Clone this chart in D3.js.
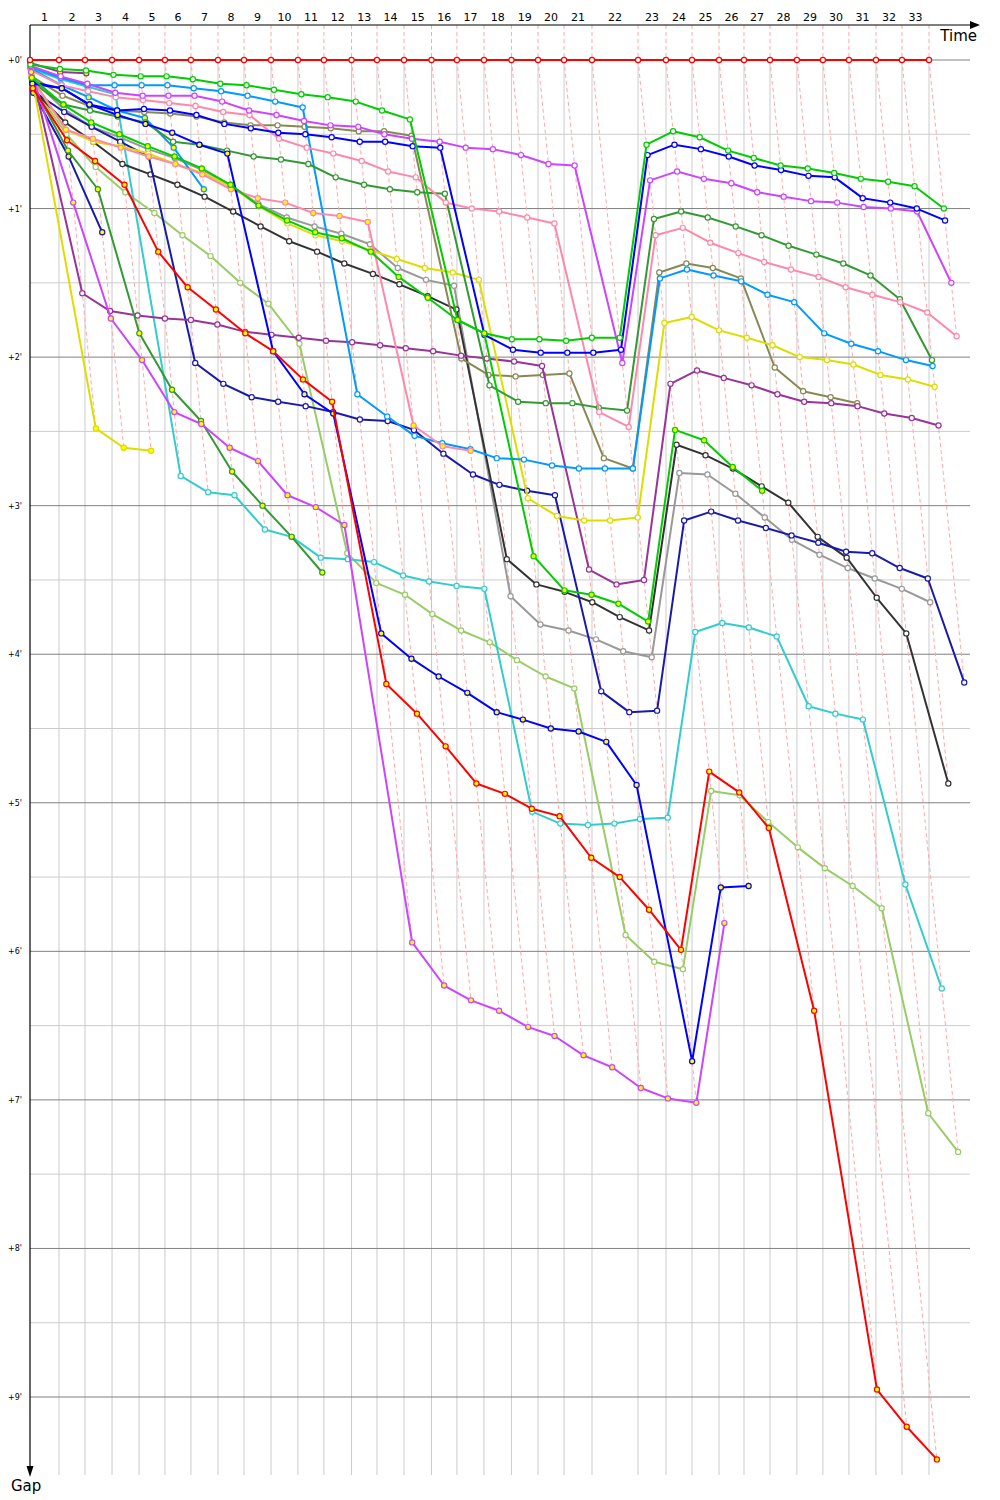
<!DOCTYPE html>
<html>
<head>
<meta charset="utf-8">
<script src="https://cdn.jsdelivr.net/npm/d3@7.9.0/dist/d3.min.js"></script>
<style>
  body { margin: 0; background: #fff; }
  svg { display: block; font-family: "DejaVu Sans", Verdana, sans-serif; }
</style>
</head>
<body>
<div id="gap-chart"></div>
<script>
// leader's race time at the end of each lap, in minutes (index 0 = start)
const leaderTimes = [0, 1.95, 3.70, 5.52, 7.34, 9.08, 10.83, 12.65, 14.40, 16.22, 18.03,
  19.78, 21.64, 23.35, 25.17, 27.02, 28.73, 30.55, 32.40, 34.19, 35.94, 37.82, 40.92,
  42.80, 44.55, 46.37, 48.05, 49.80, 51.61, 53.36, 55.11, 56.93, 58.68, 60.50];

const lapLabels = ['1','2','3','4','5','6','7','8','9','10','11','12','13','14','15','16','17',
  '18','19','20','21','22','23','24','25','26','27','28','29','30','31','32','33'];
const gapTicks = [0, 1, 2, 3, 4, 5, 6, 7, 8, 9];
const gapTickLabels = ["+0'", "+1'", "+2'", "+3'", "+4'", "+5'", "+6'", "+7'", "+8'", "+9'"];

// gap to the leader in minutes, one value per lap starting at lap 0
const gapsLeader = [0, 0, 0, 0, 0, 0, 0, 0, 0, 0, 0, 0, 0, 0, 0, 0, 0, 0, 0, 0, 0, 0, 0, 0, 0, 0, 0, 0, 0, 0, 0, 0, 0, 0];
const gapsRed2 = [0.19, 0.54, 0.68, 0.84, 1.29, 1.53, 1.68, 1.84, 1.96, 2.15, 2.30, 4.20, 4.40, 4.62, 4.87, 4.94,
  5.04, 5.09, 5.37, 5.50, 5.72, 5.99, 4.79, 4.93, 5.17, 6.40, 8.95, 9.20, 9.42];
const gapsGreen1 = [0.03, 0.06, 0.07, 0.10, 0.11, 0.11, 0.13, 0.16, 0.17, 0.20, 0.23, 0.25, 0.28, 0.34, 0.40, 1.75,
  1.84, 1.88, 1.88, 1.89, 1.87, 1.87, 0.57, 0.48, 0.52, 0.61, 0.66, 0.71, 0.73, 0.76, 0.80, 0.82, 0.85, 1.00];
const gapsGreen2 = [0.12, 0.30, 0.42, 0.50, 0.58, 0.65, 0.73, 0.84, 0.98, 1.08, 1.16, 1.20, 1.29, 1.46, 1.60, 1.75,
  1.84, 3.34, 3.57, 3.60, 3.66, 3.78, 2.49, 2.56, 2.74, 2.90];
const gapsBlue1 = [0.15, 0.19, 0.30, 0.34, 0.33, 0.34, 0.37, 0.43, 0.46, 0.49, 0.50, 0.52, 0.55, 0.55, 0.58, 0.59,
  1.85, 1.95, 1.97, 1.97, 1.97, 1.95, 0.64, 0.57, 0.60, 0.65, 0.71, 0.74, 0.78, 0.79, 0.93, 0.96, 1.00, 1.08];
const gapsBlue2 = [0.16, 0.19, 0.30, 0.37, 0.43, 0.49, 0.57, 0.63, 1.96, 2.25, 2.38, 3.86, 4.03, 4.15, 4.26, 4.39,
  4.44, 4.50, 4.52, 4.59, 4.88, 6.74, 5.57, 5.56];
const gapsMagenta1 = [0.04, 0.11, 0.16, 0.22, 0.24, 0.24, 0.24, 0.28, 0.34, 0.37, 0.41, 0.44, 0.45, 0.50, 0.53, 0.55,
  0.59, 0.60, 0.64, 0.70, 0.71, 2.04, 0.81, 0.75, 0.80, 0.83, 0.89, 0.92, 0.95, 0.96, 0.99, 1.00, 1.02, 1.50];
const gapsMagenta2 = [0.08, 0.96, 1.74, 2.02, 2.37, 2.45, 2.61, 2.70, 2.93, 3.01, 3.13, 5.94, 6.23, 6.33, 6.40, 6.51,
  6.57, 6.70, 6.78, 6.92, 6.99, 7.02, 5.81];
const gapsPink1 = [0.07, 0.17, 0.21, 0.25, 0.27, 0.29, 0.31, 0.35, 0.37, 0.53, 0.59, 0.63, 0.68, 0.75, 0.79, 0.96,
  1.00, 1.02, 1.06, 1.10, 2.37, 2.47, 1.18, 1.13, 1.23, 1.30, 1.36, 1.41, 1.46, 1.53, 1.58, 1.63, 1.70, 1.86];
const gapsPink2 = [0.12, 0.47, 0.53, 0.59, 0.65, 0.70, 0.77, 0.87, 0.93, 0.96, 1.03, 1.05, 1.09, 2.46, 2.60, 2.63];
const gapsDarkGreen1 = [0.15, 0.30, 0.34, 0.38, 0.42, 0.55, 0.57, 0.61, 0.65, 0.67, 0.70, 0.79, 0.84, 0.87, 0.89, 0.90,
  2.19, 2.30, 2.31, 2.31, 2.34, 2.36, 1.07, 1.02, 1.06, 1.12, 1.18, 1.25, 1.31, 1.37, 1.45, 1.61, 2.02];
const gapsDarkGreen2 = [0.17, 0.61, 0.87, 1.84, 2.22, 2.43, 2.77, 3.00, 3.21, 3.45];
const gapsLightBlue1 = [0.05, 0.12, 0.17, 0.17, 0.17, 0.17, 0.19, 0.21, 0.24, 0.28, 0.32, 2.25, 2.40, 2.53, 2.58, 2.62,
  2.68, 2.69, 2.73, 2.75, 2.75, 2.75, 1.47, 1.41, 1.45, 1.49, 1.58, 1.63, 1.84, 1.91, 1.96, 2.02, 2.06];
const gapsLightBlue2 = [0.06, 0.17, 0.25, 0.34, 0.39, 0.59, 0.87];
const gapsYellow1 = [0.10, 2.48, 2.61, 2.63];
const gapsYellow2 = [0.13, 0.47, 0.55, 0.58, 0.63, 0.70, 0.76, 0.85, 0.98, 1.10, 1.18, 1.22, 1.28, 1.34, 1.40, 1.43,
  1.48, 2.95, 3.07, 3.10, 3.10, 3.08, 1.77, 1.73, 1.82, 1.87, 1.92, 2.00, 2.02, 2.05, 2.12, 2.15, 2.20];
const gapsPurple1 = [0.05, 1.57, 1.69, 1.72, 1.74, 1.75, 1.78, 1.83, 1.85, 1.87, 1.89, 1.90, 1.92, 1.94, 1.96, 1.99,
  2.01, 2.03, 2.06, 3.43, 3.53, 3.50, 2.18, 2.09, 2.14, 2.19, 2.25, 2.30, 2.31, 2.33, 2.38, 2.41, 2.46];
const gapsPurple2 = [0.02, 0.08, 0.09];
const gapsNavy1 = [0.22, 0.65, 1.16];
const gapsNavy2 = [0.21, 0.35, 0.45, 0.55, 0.65, 2.04, 2.18, 2.27, 2.30, 2.33, 2.37, 2.42, 2.43, 2.49, 2.65, 2.79,
  2.86, 2.90, 2.93, 4.25, 4.39, 4.38, 3.10, 3.04, 3.10, 3.15, 3.20, 3.25, 3.31, 3.32, 3.42, 3.49, 4.19];
const gapsOlive = [0.11, 0.24, 0.31, 0.34, 0.35, 0.36, 0.38, 0.42, 0.44, 0.44, 0.45, 0.46, 0.48, 0.48, 0.51, 2.01,
  2.12, 2.13, 2.12, 2.11, 2.68, 2.75, 1.43, 1.37, 1.40, 1.47, 2.07, 2.23, 2.27, 2.31];
const gapsCyan = [0.06, 0.13, 0.18, 0.23, 2.80, 2.91, 2.93, 3.16, 3.21, 3.35, 3.36, 3.38, 3.47, 3.51, 3.54, 3.56,
  5.06, 5.14, 5.15, 5.14, 5.11, 5.10, 3.85, 3.79, 3.82, 3.88, 4.35, 4.40, 4.44, 5.55, 6.25];
const gapsLightGreen = [0.17, 0.50, 0.72, 0.89, 1.03, 1.18, 1.32, 1.50, 1.64, 1.91, 3.32, 3.52, 3.60, 3.73, 3.84, 3.92,
  4.04, 4.15, 4.23, 5.89, 6.07, 6.12, 4.92, 4.95, 5.13, 5.30, 5.44, 5.56, 5.71, 7.09, 7.35];
const gapsBlack = [0.20, 0.42, 0.55, 0.70, 0.77, 0.84, 0.92, 1.02, 1.12, 1.22, 1.29, 1.37, 1.44, 1.51, 1.59, 1.68,
  3.36, 3.53, 3.58, 3.65, 3.75, 3.84, 2.59, 2.66, 2.75, 2.87, 2.98, 3.21, 3.35, 3.62, 3.86, 4.87];
const gapsGray = [0.13, 0.33, 0.45, 0.52, 0.60, 0.66, 0.74, 0.84, 0.97, 1.06, 1.12, 1.17, 1.24, 1.40, 1.48, 1.52,
  3.61, 3.80, 3.84, 3.90, 3.98, 4.02, 2.78, 2.79, 2.92, 3.08, 3.23, 3.33, 3.42, 3.49, 3.56, 3.65];

// drawing order: first entries end up underneath
const series = [
  { gaps: gapsLightGreen, color: '#99cc66', fill: '#ffffff' },
  { gaps: gapsCyan, color: '#33cccc', fill: '#ffffff' },
  { gaps: gapsGray, color: '#999999', fill: '#ffffff' },
  { gaps: gapsBlack, color: '#333333', fill: '#ffffff' },
  { gaps: gapsOlive, color: '#888855', fill: '#ffffff' },
  { gaps: gapsNavy2, color: '#1a1aaa', fill: '#ffffff' },
  { gaps: gapsNavy1, color: '#1a1aaa', fill: '#ffff00' },
  { gaps: gapsPurple1, color: '#993399', fill: '#ffffff' },
  { gaps: gapsPurple2, color: '#993399', fill: '#ffff00' },
  { gaps: gapsYellow2, color: '#dddd00', fill: '#ffffff' },
  { gaps: gapsYellow1, color: '#dddd00', fill: '#ffff00' },
  { gaps: gapsLightBlue1, color: '#0099ff', fill: '#ffffff' },
  { gaps: gapsLightBlue2, color: '#0099ff', fill: '#ffff00' },
  { gaps: gapsDarkGreen1, color: '#339933', fill: '#ffffff' },
  { gaps: gapsDarkGreen2, color: '#339933', fill: '#ffff00' },
  { gaps: gapsPink1, color: '#ff88aa', fill: '#ffffff' },
  { gaps: gapsPink2, color: '#ff88aa', fill: '#ffff00' },
  { gaps: gapsMagenta1, color: '#cc44ff', fill: '#ffffff' },
  { gaps: gapsMagenta2, color: '#cc44ff', fill: '#ffff00' },
  { gaps: gapsBlue1, color: '#0000ff', fill: '#ffffff' },
  { gaps: gapsBlue2, color: '#0000ff', fill: '#ffff00' },
  { gaps: gapsGreen1, color: '#00cc00', fill: '#ffffff' },
  { gaps: gapsGreen2, color: '#00cc00', fill: '#ffff00' },
  { gaps: gapsRed2, color: '#ff0000', fill: '#ffff00' },
  { gaps: gapsLeader, color: '#ff0000', fill: '#ffffff' }
];

const width = 1000, height = 1500;
const plotLeft = 30, plotRight = 970, axisTop = 25, axisBottom = 1477;

const svg = d3.select('#gap-chart')
  .append('svg')
  .attr('width', width)
  .attr('height', height);

// time runs left to right, gap runs downwards (10x stretched compared to time)
const x = d3.scaleLinear()
  .domain([0, leaderTimes[leaderTimes.length - 1]])
  .range([30, 929]);
const y = d3.scaleLinear()
  .domain([0, 9])
  .range([60, 1397]);

const lapOf = d => x(leaderTimes[d.lap] + d.gap);

// -------------------- GRID -------------------- //
const grid = svg.append('g');

grid.selectAll('.half-line')
  .data(gapTicks.slice(0, -1).map(d => d + 0.5))
  .join('line')
  .attr('x1', plotLeft).attr('x2', plotRight)
  .attr('y1', d => y(d)).attr('y2', d => y(d))
  .attr('stroke', '#cccccc');

grid.selectAll('.lap-line')
  .data(leaderTimes.slice(1))
  .join('line')
  .attr('x1', d => x(d)).attr('x2', d => x(d))
  .attr('y1', y(0)).attr('y2', 1475)
  .attr('stroke', '#cccccc');

grid.selectAll('.minute-line')
  .data(gapTicks)
  .join('line')
  .attr('x1', plotLeft).attr('x2', plotRight)
  .attr('y1', d => y(d)).attr('y2', d => y(d))
  .attr('stroke', '#808080');

// dashed line per lap: from the leader down to the last car on that lap
const lapLines = leaderTimes.slice(1).map((t, i) => {
  const lap = i + 1;
  const maxGap = d3.max(series, s => s.gaps[lap]);
  return [[x(t), axisTop], [x(t), y(0)], [x(t + maxGap), y(maxGap)]];
});

svg.append('g')
  .selectAll('path')
  .data(lapLines)
  .join('path')
  .attr('d', d3.line())
  .attr('fill', 'none')
  .attr('stroke', '#ffa8a8')
  .attr('stroke-width', 1)
  .attr('stroke-dasharray', '4,3');

// -------------------- AXES -------------------- //
const axes = svg.append('g');

axes.append('line')
  .attr('x1', plotLeft).attr('x2', 972)
  .attr('y1', axisTop).attr('y2', axisTop)
  .attr('stroke', '#000').attr('stroke-width', 1.2);
axes.append('path')
  .attr('d', `M970,${axisTop - 4}L980,${axisTop}L970,${axisTop + 4}Z`)
  .attr('fill', '#000');

axes.append('line')
  .attr('x1', plotLeft).attr('x2', plotLeft)
  .attr('y1', axisTop).attr('y2', axisBottom - 8)
  .attr('stroke', '#000').attr('stroke-width', 1.2);
axes.append('path')
  .attr('d', `M${plotLeft - 3.5},${axisBottom - 11}L${plotLeft},${axisBottom}L${plotLeft + 3.5},${axisBottom - 11}Z`)
  .attr('fill', '#000');

axes.selectAll('.lap-label')
  .data(lapLabels)
  .join('text')
  .attr('x', (d, i) => (x(leaderTimes[i]) + x(leaderTimes[i + 1])) / 2)
  .attr('y', 21)
  .attr('text-anchor', 'middle')
  .attr('font-size', '11px')
  .text(d => d);

axes.selectAll('.gap-label')
  .data(gapTicks)
  .join('text')
  .attr('x', 22)
  .attr('y', d => y(d) + 3)
  .attr('text-anchor', 'end')
  .attr('font-size', '8px')
  .text((d, i) => gapTickLabels[i]);

axes.append('text')
  .attr('x', 977).attr('y', 41)
  .attr('text-anchor', 'end')
  .attr('font-size', '15px')
  .text('Time');

axes.append('text')
  .attr('x', 11).attr('y', 1491)
  .attr('font-size', '15px')
  .text('Gap');

// -------------------- CARS -------------------- //
const line = d3.line().x(lapOf).y(d => y(d.gap));

series.forEach(s => {
  const pts = s.gaps.map((g, lap) => ({ lap, gap: g })).filter(d => d.gap != null);
  const g = svg.append('g');
  g.append('path')
    .datum(pts)
    .attr('d', line)
    .attr('fill', 'none')
    .attr('stroke', s.color)
    .attr('stroke-width', 2)
    .attr('stroke-linejoin', 'round');
  g.selectAll('circle')
    .data(pts)
    .join('circle')
    .attr('cx', lapOf)
    .attr('cy', d => y(d.gap))
    .attr('r', 2.6)
    .attr('fill', s.fill)
    .attr('stroke', s.color)
    .attr('stroke-width', 1.2);
});
</script>
</body>
</html>
